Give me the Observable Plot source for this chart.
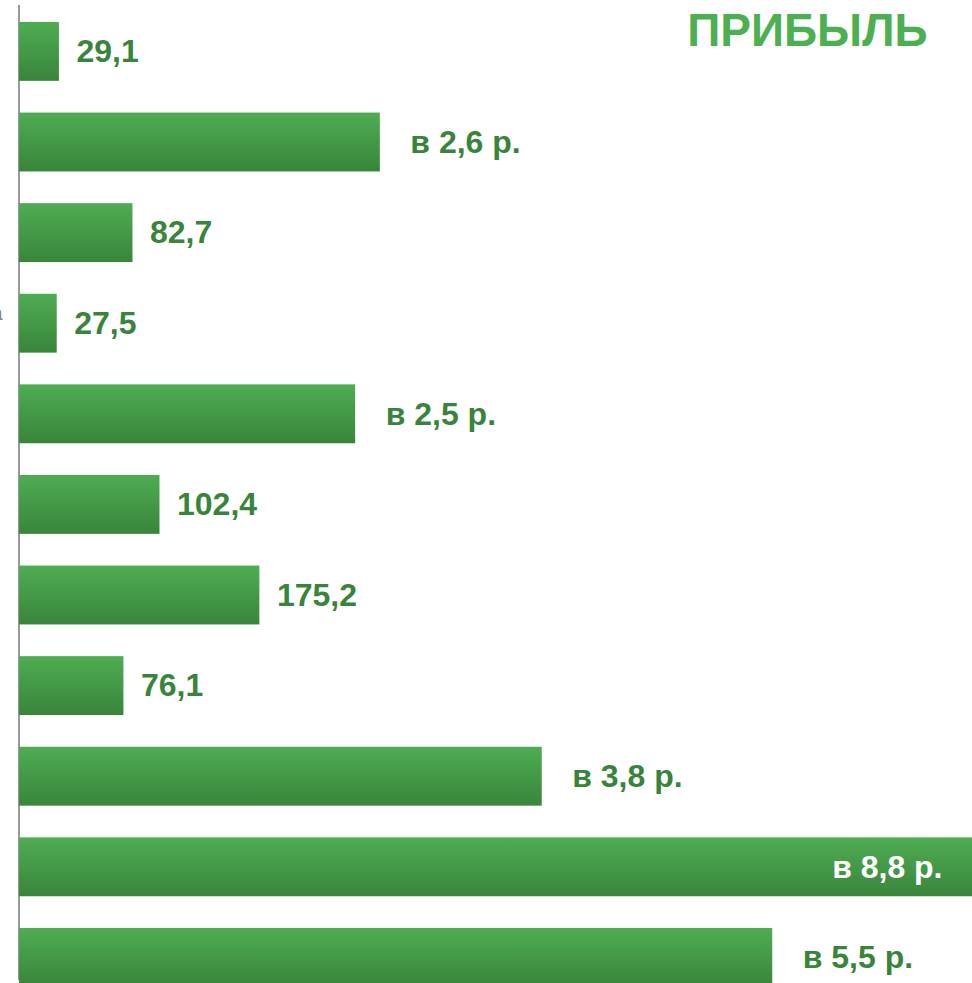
<!DOCTYPE html>
<html>
<head>
<meta charset="utf-8">
<script src="https://cdn.jsdelivr.net/npm/d3@7"></script>
<script src="https://cdn.jsdelivr.net/npm/@observablehq/plot@0.6"></script>
<style>
  html, body { margin: 0; padding: 0; background: #fff; }
  #chart { width: 972px; height: 983px; overflow: hidden; }
</style>
</head>
<body>
<div id="chart"></div>
<script>
const title = "ПРИБЫЛЬ";
const rows = ["1", "2", "3", "4", "5", "6", "7", "8", "9", "10", "11"];
const values = [29.1, 263, 82.7, 27.5, 245, 102.4, 175.2, 76.1, 381, 700, 549];
const labels = ["29,1", "в 2,6 р.", "82,7", "27,5", "в 2,5 р.", "102,4", "175,2", "76,1", "в 3,8 р.", "в 8,8 р.", "в 5,5 р."];
const xMax = 694.6;

const data = rows.map((r, i) => ({
  row: r,
  value: values[i],
  label: labels[i],
  ratio: labels[i].startsWith("в"),
  inside: values[i] > xMax * 0.9
}));

const font = "'Liberation Sans', Arial, Helvetica, sans-serif";

const defs = () => {
  const d = d3.create("svg:defs");
  const g = d.append("linearGradient").attr("id", "barGrad")
    .attr("x1", 0).attr("y1", 0).attr("x2", 0).attr("y2", 1);
  g.append("stop").attr("offset", "0%").attr("stop-color", "#4ead52");
  g.append("stop").attr("offset", "100%").attr("stop-color", "#39853b");
  return d.node();
};

const chart = Plot.plot({
  width: 972,
  height: 983,
  marginLeft: 19,
  marginRight: 0,
  marginTop: 5,
  marginBottom: 3,
  style: { fontFamily: font, background: "transparent", overflow: "visible" },
  x: { domain: [0, xMax], axis: null },
  y: { domain: rows, range: [6.1, 1002.7], paddingInner: 0.35, paddingOuter: 0.175, round: false, axis: null },
  marks: [
    defs,
    Plot.ruleX([0], { stroke: "#9a9a9a", strokeWidth: 2, dx: -0.5 }),
    Plot.barX(data, { y: "row", x: "value", fill: "url(#barGrad)" }),
    Plot.text(data.filter(d => !d.inside && !d.ratio), {
      y: "row", x: "value", text: "label", textAnchor: "start", dx: 17,
      fill: "#39843b", fontSize: 32, fontWeight: "bold"
    }),
    Plot.text(data.filter(d => !d.inside && d.ratio), {
      y: "row", x: "value", text: "label", textAnchor: "start", dx: 30,
      fill: "#39843b", fontSize: 32, fontWeight: "bold"
    }),
    Plot.text(data.filter(d => d.inside), {
      y: "row", frameAnchor: "right", text: "label", textAnchor: "end", dx: -30,
      fill: "#ffffff", fontSize: 32, fontWeight: "bold"
    }),
    Plot.text([title], {
      frameAnchor: "top-right", text: d => d, textAnchor: "end", lineAnchor: "top",
      dx: -45, dy: 8, fill: "#4caf50", fontSize: 46, fontWeight: "bold"
    }),
    Plot.text(["а"], {
      frameAnchor: "left", text: d => d, textAnchor: "end", dx: -17, dy: -179,
      fill: "#888888", fontSize: 20
    })
  ]
});

document.getElementById("chart").appendChild(chart);
</script>
</body>
</html>
